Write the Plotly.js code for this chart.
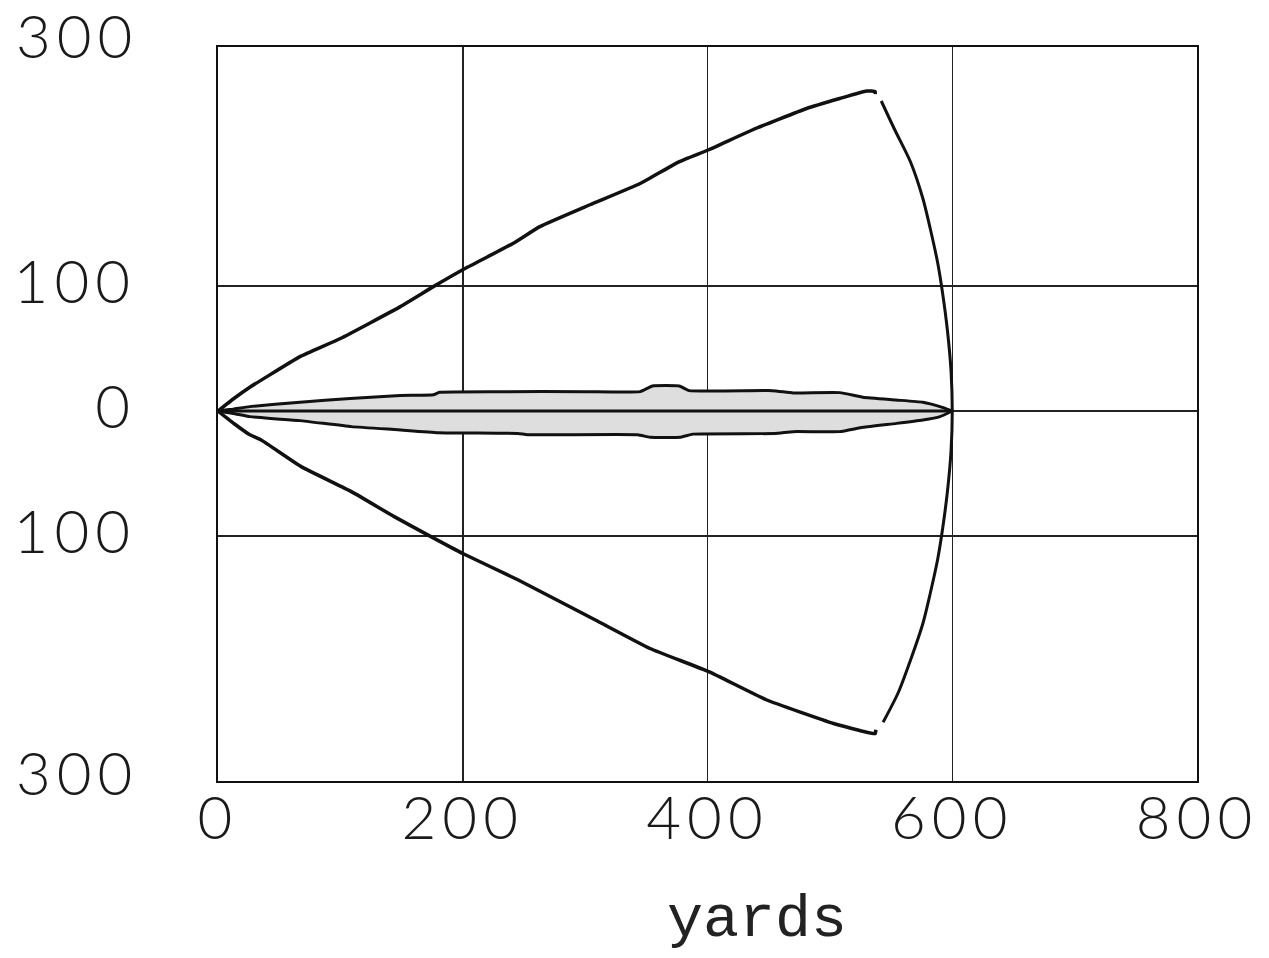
<!DOCTYPE html>
<html>
<head>
<meta charset="utf-8">
<script src="https://cdn.plot.ly/plotly-3.0.1.min.js"></script>
<style>
  html, body { margin: 0; padding: 0; background: #ffffff; }
  #chart { width: 1269px; height: 958px; }
  #chart .xtick text, #chart .ytick text { letter-spacing: 6px; }
</style>
</head>
<body>
<div id="chart"></div>
<script>
// ---- Data (yards) ----
const upperX = [0, 13, 26, 40, 67, 100, 149, 176, 200, 241, 263, 304, 345, 377, 401, 437, 481, 508, 530, 537, 537];
const upperY = [0, 10, 19, 27.5, 43.5, 58, 83.5, 99.5, 113, 134, 147.5, 165, 182, 199.5, 209, 225, 242, 250, 256, 255.5, 253.5];

const lowerX = [0, 13, 26, 35, 68, 109, 144, 174, 200, 245, 308, 353, 401, 448, 503, 530, 537, 537.6];
const lowerY = [0, -10, -19, -23, -44.5, -64.5, -84.5, -100.5, -114, -135, -167, -190, -208.5, -231, -250, -257, -258, -255];

const arcX = [542, 553, 566, 576, 582, 588, 592, 596, 599, 600, 599, 596, 592, 588, 582, 576, 566, 556, 543.5];
const arcY = [248, 225, 199, 170, 146, 119, 95, 65, 32, 0, -32, -65, -95, -119, -146, -170, -199, -225, -249];

const coreTopX = [0, 12.5, 26, 67, 108, 149, 176, 181, 230, 300, 345, 355, 377, 385, 453, 470, 508, 527, 554, 576, 590, 600];
const coreTopY = [0, 1.5, 3.5, 7, 10, 12.5, 13, 15, 15.5, 15.5, 15.5, 20, 20, 16.3, 16.3, 14.5, 14.7, 11, 8.8, 7, 3.5, 0];

const coreBotX = [0, 12.5, 26, 43, 67, 109, 147, 180, 245, 253, 343, 353, 378, 388, 455, 470, 508, 527, 554.5, 576, 590, 600];
const coreBotY = [0, -2, -4.5, -6, -7.7, -12.5, -15, -17.3, -18, -19, -19, -21, -21, -18.5, -18, -16.5, -16.5, -13, -9.9, -7.2, -4.5, 0];

const axisX = [0, 600];
const axisY = [0, 0];

const xTickVals = [0, 200, 400, 600, 800];
const xTickText = ["0", "200", "400", "600", "800"];
const yTickVals = [-100, 0, 100];
const yTickText = ["100", "0", "100"];
const yEdgeLabel = "300";
const xTitle = "yards";

// ---- Build traces ----
const coreX = coreTopX.concat(coreBotX.slice().reverse());
const coreY = coreTopY.concat(coreBotY.slice().reverse());

const black = "#111111";
const traces = [
  {x: coreX, y: coreY, type: "scatter", mode: "lines", fill: "toself",
   fillcolor: "#dedede", line: {color: black, width: 3, shape: "spline", smoothing: 0.4}, hoverinfo: "skip"},
  {x: axisX, y: axisY, type: "scatter", mode: "lines",
   line: {color: black, width: 3}, hoverinfo: "skip"},
  {x: upperX, y: upperY, type: "scatter", mode: "lines",
   line: {color: black, width: 3.5, shape: "spline", smoothing: 0.4}, hoverinfo: "skip"},
  {x: lowerX, y: lowerY, type: "scatter", mode: "lines",
   line: {color: black, width: 3.5, shape: "spline", smoothing: 0.4}, hoverinfo: "skip"},
  {x: arcX, y: arcY, type: "scatter", mode: "lines",
   line: {color: black, width: 3, shape: "spline", smoothing: 0.8}, hoverinfo: "skip"}
];

const digitFont = {family: "Lato, Liberation Mono, monospace", color: "#1a1a1a", size: 60, weight: 300};
const titleFont = {family: "Liberation Mono, DejaVu Sans Mono, monospace", color: "#222222", size: 60};

const layout = {
  width: 1269, height: 958,
  margin: {l: 218, r: 72, t: 47, b: 177},
  paper_bgcolor: "#ffffff", plot_bgcolor: "#ffffff",
  showlegend: false,
  font: digitFont,
  xaxis: {
    range: [0, 800], tickmode: "array", tickvals: xTickVals, ticktext: xTickText,
    showgrid: true, gridcolor: "#222222", gridwidth: 1.5,
    zeroline: false, showline: true, mirror: true, linecolor: "#111111", linewidth: 2,
    ticks: "", ticklabelstandoff: -16, tickfont: digitFont, fixedrange: true
  },
  yaxis: {
    range: [-296, 291.2], tickmode: "array", tickvals: yTickVals, ticktext: yTickText,
    showgrid: true, gridcolor: "#222222", gridwidth: 1.5,
    zeroline: false, showline: true, mirror: true, linecolor: "#111111", linewidth: 2,
    ticks: "", ticklabelstandoff: 68, ticklabelshift: -4, tickfont: digitFont, fixedrange: true
  },
  annotations: [
    {text: yEdgeLabel, xref: "paper", yref: "paper", x: -0.089, y: 1.0165,
     xanchor: "right", yanchor: "middle", showarrow: false, font: digitFont},
    {text: yEdgeLabel, xref: "paper", yref: "paper", x: -0.089, y: 0.0125,
     xanchor: "right", yanchor: "middle", showarrow: false, font: digitFont},
    {text: xTitle, xref: "paper", yref: "paper", x: 0.5506, y: -0.19,
     xanchor: "center", yanchor: "middle", showarrow: false, font: titleFont}
  ]
};

Plotly.newPlot("chart", traces, layout, {displayModeBar: false, staticPlot: true}).then(function (gd) {
  document.querySelectorAll("#chart .annotation-text").forEach(function (t) {
    if (t.textContent === yEdgeLabel) { t.style.letterSpacing = "6px"; }
  });
});
</script>
</body>
</html>
